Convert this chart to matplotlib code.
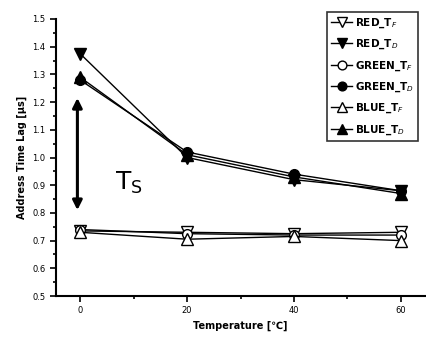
import matplotlib
matplotlib.use("Agg")
import matplotlib.pyplot as plt
from matplotlib.ticker import MultipleLocator

temp = [0, 20, 40, 60]
red_tf = [0.735, 0.730, 0.725, 0.730]
red_td = [1.375, 1.000, 0.920, 0.880]
green_tf = [0.740, 0.725, 0.720, 0.720]
green_td = [1.280, 1.020, 0.940, 0.880]
blue_tf = [0.730, 0.705, 0.715, 0.700]
blue_td = [1.290, 1.010, 0.930, 0.870]

fig = plt.figure(figsize=(4.26, 3.41), dpi=100)
ax = fig.add_axes([56 / 426, 45 / 341, 369 / 426, 277 / 341])

ms = 8
ax.plot(temp, red_tf, color='black', lw=1, marker='v', mfc='white', mec='black', ms=ms, label=r'RED_T$_F$')
ax.plot(temp, red_td, color='black', lw=1, marker='v', mfc='black', ms=ms, label=r'RED_T$_D$')
ax.plot(temp, green_tf, color='black', lw=1, marker='o', mfc='white', mec='black', ms=ms - 1, label=r'GREEN_T$_F$')
ax.plot(temp, green_td, color='black', lw=1, marker='o', mfc='black', ms=ms - 1, label=r'GREEN_T$_D$')
ax.plot(temp, blue_tf, color='black', lw=1, marker='^', mfc='white', mec='black', ms=ms, label=r'BLUE_T$_F$')
ax.plot(temp, blue_td, color='black', lw=1, marker='^', mfc='black', ms=ms, label=r'BLUE_T$_D$')

ax.annotate('', xy=(-0.5, 0.80), xytext=(-0.5, 1.225),
            arrowprops=dict(arrowstyle='<|-|>', color='black', lw=2.2, mutation_scale=14))
ax.text(6.5, 0.91, r'T$_\mathrm{S}$', fontsize=18, va='center')

ax.set_xlim(-4.5, 64.5)
ax.set_ylim(0.5, 1.5)
ax.xaxis.set_major_locator(MultipleLocator(20))
ax.xaxis.set_minor_locator(MultipleLocator(10))
ax.yaxis.set_major_locator(MultipleLocator(0.1))
ax.yaxis.set_minor_locator(MultipleLocator(0.05))
ax.spines['top'].set_visible(False)
ax.spines['right'].set_visible(False)
ax.spines['left'].set_linewidth(1.5)
ax.spines['bottom'].set_linewidth(1.5)
ax.tick_params(which='both', direction='out', width=1.2, labelsize=6)
ax.tick_params(which='major', length=4)
ax.tick_params(which='minor', length=2.5)

ax.set_xlabel('Temperature [\u2103]', fontsize=7, fontweight='bold')
ax.set_ylabel('Address Time Lag [\u03bcs]', fontsize=7, fontweight='bold')

leg = fig.legend(loc='upper left', bbox_to_anchor=(322 / 426, 1 - 7 / 341),
                 prop={'size': 7.5, 'weight': 'bold'}, frameon=True, fancybox=False,
                 edgecolor='black', handlelength=2.0, borderpad=0.4, labelspacing=0.75,
                 handletextpad=0.3, markerscale=0.9)
leg.get_frame().set_linewidth(1.2)

fig.savefig('out.png', dpi=100)
